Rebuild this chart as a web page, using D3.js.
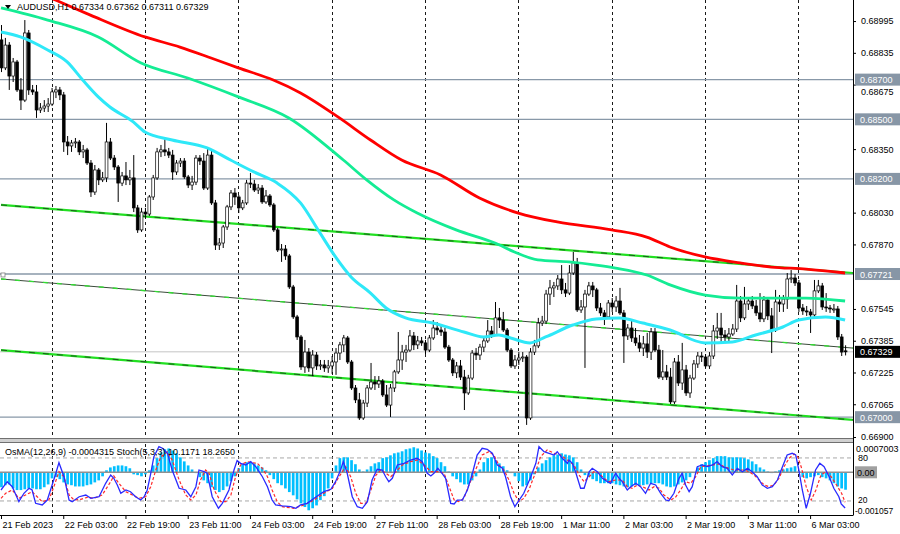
<!DOCTYPE html>
<html>
<head>
<meta charset="utf-8">
<script src="https://cdn.jsdelivr.net/npm/d3@7"></script>
<style>
html, body { margin: 0; padding: 0; background: #fff; }
svg { display: block; font-family: "Liberation Sans", Arial, sans-serif; }
</style>
</head>
<body>
<svg id="chart"></svg>
<script>
// ==================== Data ====================

var barOpen = [
0.68900,0.68759,0.68874,0.68718,0.68789,0.68648,0.68597,0.68935,0.68648,0.68638,
0.68547,0.68557,0.68567,0.68577,0.68638,0.68648,0.68623,0.68386,0.68366,0.68381,
0.68386,0.68336,0.68346,0.68280,0.68134,0.68245,0.68195,0.68205,0.68386,0.68305,
0.68260,0.68179,0.68215,0.68195,0.68205,0.68054,0.67943,0.68033,0.68023,0.68109,
0.68205,0.68336,0.68346,0.68336,0.68320,0.68235,0.68280,0.68290,0.68210,0.68169,
0.68184,0.68305,0.68290,0.68154,0.68320,0.68079,0.67867,0.67877,0.67958,0.68059,
0.68129,0.68109,0.68054,0.68079,0.68179,0.68174,0.68144,0.68154,0.68084,0.68114,
0.68069,0.67943,0.67842,0.67847,0.67812,0.67656,0.67505,0.67404,0.67253,0.67328,
0.67248,0.67313,0.67258,0.67263,0.67248,0.67258,0.67278,0.67323,0.67364,0.67399,
0.67278,0.67147,0.67087,0.66996,0.67071,0.67147,0.67177,0.67167,0.67182,0.67112,
0.67061,0.67147,0.67228,0.67288,0.67328,0.67338,0.67409,0.67364,0.67384,0.67374,
0.67338,0.67399,0.67449,0.67439,0.67429,0.67353,0.67288,0.67223,0.67258,0.67202,
0.67122,0.67197,0.67323,0.67313,0.67353,0.67384,0.67434,0.67414,0.67500,0.67489,
0.67439,0.67338,0.67258,0.67288,0.67298,0.67303,0.66996,0.67328,0.67359,0.67474,
0.67484,0.67620,0.67651,0.67661,0.67696,0.67641,0.67625,0.67726,0.67777,0.67540,
0.67555,0.67620,0.67661,0.67641,0.67550,0.67525,0.67505,0.67575,0.67555,0.67585,
0.67525,0.67409,0.67449,0.67399,0.67374,0.67348,0.67369,0.67328,0.67429,0.67338,
0.67202,0.67228,0.67202,0.67077,0.67278,0.67172,0.67238,0.67122,0.67197,0.67268,
0.67308,0.67303,0.67258,0.67308,0.67434,0.67449,0.67414,0.67404,0.67419,0.67444,
0.67585,0.67500,0.67570,0.67585,0.67560,0.67525,0.67495,0.67590,0.67510,0.67439,
0.67580,0.67570,0.67595,0.67696,0.67701,0.67676,0.67550,0.67535,0.67530,0.67515,
0.67636,0.67661,0.67555,0.67550,0.67545,0.67545,0.67404,0.67334];

var barHigh = [
0.68975,0.68910,0.68889,0.68809,0.68799,0.68708,0.69000,0.68950,0.68673,0.68673,
0.68582,0.68597,0.68607,0.68658,0.68668,0.68663,0.68638,0.68416,0.68396,0.68406,
0.68396,0.68371,0.68356,0.68295,0.68270,0.68255,0.68235,0.68482,0.68406,0.68320,
0.68270,0.68235,0.68285,0.68245,0.68320,0.68069,0.68054,0.68054,0.68119,0.68220,
0.68356,0.68371,0.68406,0.68356,0.68346,0.68295,0.68305,0.68305,0.68220,0.68215,
0.68320,0.68320,0.68330,0.68356,0.68346,0.68094,0.67902,0.67968,0.68069,0.68144,
0.68154,0.68119,0.68094,0.68195,0.68230,0.68195,0.68174,0.68169,0.68144,0.68124,
0.68079,0.67953,0.67872,0.67867,0.67822,0.67666,0.67515,0.67414,0.67389,0.67348,
0.67338,0.67328,0.67288,0.67288,0.67288,0.67308,0.67348,0.67379,0.67414,0.67409,
0.67288,0.67162,0.67122,0.67087,0.67162,0.67273,0.67207,0.67207,0.67192,0.67162,
0.67167,0.67238,0.67429,0.67364,0.67364,0.67439,0.67429,0.67409,0.67404,0.67389,
0.67414,0.67489,0.67479,0.67459,0.67449,0.67364,0.67298,0.67278,0.67288,0.67238,
0.67213,0.67338,0.67348,0.67369,0.67404,0.67489,0.67459,0.67580,0.67550,0.67530,
0.67449,0.67348,0.67313,0.67328,0.67328,0.67313,0.67348,0.67389,0.67500,0.67510,
0.67641,0.67691,0.67681,0.67716,0.67766,0.67676,0.67766,0.67832,0.67802,0.67590,
0.67641,0.67681,0.67681,0.67651,0.67575,0.67540,0.67590,0.67600,0.67610,0.67651,
0.67540,0.67469,0.67489,0.67449,0.67414,0.67409,0.67424,0.67449,0.67449,0.67364,
0.67338,0.67263,0.67248,0.67298,0.67313,0.67374,0.67263,0.67213,0.67288,0.67328,
0.67328,0.67318,0.67328,0.67464,0.67525,0.67525,0.67439,0.67449,0.67469,0.67666,
0.67610,0.67656,0.67605,0.67610,0.67590,0.67625,0.67610,0.67600,0.67550,0.67641,
0.67615,0.67615,0.67726,0.67741,0.67721,0.67691,0.67570,0.67560,0.67545,0.67691,
0.67691,0.67676,0.67625,0.67565,0.67570,0.67560,0.67419,0.67362];

var barLow = [
0.68738,0.68748,0.68648,0.68688,0.68638,0.68547,0.68587,0.68623,0.68623,0.68507,
0.68532,0.68537,0.68537,0.68567,0.68607,0.68597,0.68336,0.68320,0.68336,0.68356,
0.68320,0.68305,0.68270,0.68109,0.68119,0.68169,0.68184,0.68184,0.68295,0.68245,
0.68084,0.68164,0.68169,0.68169,0.68033,0.67928,0.67933,0.68003,0.68013,0.68094,
0.68195,0.68310,0.68315,0.68305,0.68195,0.68220,0.68260,0.68200,0.68154,0.68144,
0.68169,0.68270,0.68144,0.68144,0.68069,0.67842,0.67842,0.67852,0.67943,0.68043,
0.68069,0.68028,0.68043,0.68069,0.68154,0.68134,0.68124,0.68074,0.68074,0.68059,
0.67933,0.67832,0.67782,0.67792,0.67646,0.67495,0.67389,0.67238,0.67223,0.67228,
0.67207,0.67238,0.67238,0.67228,0.67223,0.67218,0.67213,0.67288,0.67328,0.67268,
0.67137,0.67071,0.66986,0.66986,0.67051,0.67137,0.67137,0.67147,0.67102,0.67051,
0.67001,0.67127,0.67218,0.67238,0.67278,0.67328,0.67338,0.67343,0.67359,0.67318,
0.67328,0.67389,0.67414,0.67409,0.67343,0.67278,0.67207,0.67197,0.67187,0.67036,
0.67112,0.67187,0.67288,0.67288,0.67328,0.67374,0.67399,0.67409,0.67449,0.67429,
0.67328,0.67248,0.67243,0.67263,0.67278,0.66961,0.66986,0.67313,0.67348,0.67459,
0.67469,0.67565,0.67605,0.67641,0.67620,0.67605,0.67615,0.67716,0.67530,0.67525,
0.67248,0.67610,0.67605,0.67535,0.67510,0.67464,0.67495,0.67530,0.67530,0.67515,
0.67273,0.67389,0.67379,0.67359,0.67328,0.67308,0.67298,0.67288,0.67328,0.67192,
0.67187,0.67187,0.67066,0.67066,0.67157,0.67137,0.67107,0.67097,0.67187,0.67248,
0.67278,0.67248,0.67243,0.67293,0.67394,0.67379,0.67379,0.67379,0.67409,0.67429,
0.67479,0.67489,0.67540,0.67545,0.67510,0.67479,0.67479,0.67489,0.67323,0.67429,
0.67530,0.67530,0.67545,0.67676,0.67661,0.67530,0.67515,0.67510,0.67424,0.67500,
0.67625,0.67540,0.67530,0.67525,0.67525,0.67389,0.67308,0.67311];

var barClose = [
0.68759,0.68874,0.68718,0.68789,0.68648,0.68597,0.68935,0.68648,0.68638,0.68547,
0.68557,0.68567,0.68577,0.68638,0.68648,0.68623,0.68386,0.68366,0.68381,0.68386,
0.68336,0.68346,0.68280,0.68134,0.68245,0.68195,0.68205,0.68386,0.68305,0.68260,
0.68179,0.68215,0.68195,0.68205,0.68054,0.67943,0.68033,0.68023,0.68109,0.68205,
0.68336,0.68346,0.68336,0.68320,0.68235,0.68280,0.68290,0.68210,0.68169,0.68184,
0.68305,0.68290,0.68154,0.68320,0.68079,0.67867,0.67877,0.67958,0.68059,0.68129,
0.68109,0.68054,0.68079,0.68179,0.68174,0.68144,0.68154,0.68084,0.68114,0.68069,
0.67943,0.67842,0.67847,0.67812,0.67656,0.67505,0.67404,0.67253,0.67328,0.67248,
0.67313,0.67258,0.67263,0.67248,0.67258,0.67278,0.67323,0.67364,0.67399,0.67278,
0.67147,0.67087,0.66996,0.67071,0.67147,0.67177,0.67167,0.67182,0.67112,0.67061,
0.67147,0.67228,0.67288,0.67328,0.67338,0.67409,0.67364,0.67384,0.67374,0.67338,
0.67399,0.67449,0.67439,0.67429,0.67353,0.67288,0.67223,0.67258,0.67202,0.67122,
0.67197,0.67323,0.67313,0.67353,0.67384,0.67434,0.67414,0.67500,0.67489,0.67439,
0.67338,0.67258,0.67288,0.67298,0.67303,0.66996,0.67328,0.67359,0.67474,0.67484,
0.67620,0.67651,0.67661,0.67696,0.67641,0.67625,0.67726,0.67777,0.67540,0.67555,
0.67620,0.67661,0.67641,0.67550,0.67525,0.67505,0.67575,0.67555,0.67585,0.67525,
0.67409,0.67449,0.67399,0.67374,0.67348,0.67369,0.67328,0.67429,0.67338,0.67202,
0.67228,0.67202,0.67077,0.67278,0.67172,0.67238,0.67122,0.67197,0.67268,0.67308,
0.67303,0.67258,0.67308,0.67434,0.67449,0.67414,0.67404,0.67419,0.67444,0.67585,
0.67500,0.67570,0.67585,0.67560,0.67525,0.67495,0.67590,0.67510,0.67439,0.67580,
0.67570,0.67595,0.67696,0.67701,0.67676,0.67550,0.67535,0.67530,0.67515,0.67636,
0.67661,0.67555,0.67550,0.67545,0.67545,0.67404,0.67328,0.67329];

// moving averages, as [bar index, price] read at intervals
var maRed = [[0,0.69227],[14,0.69101],[23,0.69025],[37,0.68915],[46,0.68864],[54,0.68809],[61,0.68759],
  [70,0.68698],[77,0.68633],[87,0.68507],[95,0.68396],[103,0.68295],[113,0.68220],[123,0.68104],
  [133,0.68028],[143,0.67983],[157,0.67943],[166,0.67907],[172,0.67857],[181,0.67807],[190,0.67777],
  [198,0.67756],[207,0.67746],[217,0.67726]];
var maGreen = [[0,0.69061],[12,0.69000],[25,0.68915],[36,0.68784],[48,0.68708],[61,0.68613],[74,0.68507],
  [88,0.68295],[94,0.68195],[101,0.68094],[107,0.68028],[117,0.67943],[127,0.67877],[132,0.67832],
  [138,0.67792],[146,0.67782],[153,0.67766],[158,0.67751],[166,0.67716],[172,0.67666],[181,0.67615],
  [190,0.67600],[198,0.67600],[207,0.67600],[217,0.67585]];
var maCyan = [[0,0.68940],[5,0.68915],[12,0.68849],[17,0.68789],[21,0.68698],[25,0.68613],[28,0.68562],
  [34,0.68487],[37,0.68436],[44,0.68396],[53,0.68356],[59,0.68295],[65,0.68235],[71,0.68179],[77,0.68079],
  [82,0.67928],[86,0.67807],[90,0.67706],[95,0.67625],[99,0.67550],[104,0.67500],[111,0.67474],
  [119,0.67429],[124,0.67404],[128,0.67414],[131,0.67399],[136,0.67374],[140,0.67404],[147,0.67464],
  [153,0.67495],[159,0.67500],[165,0.67474],[172,0.67439],[181,0.67374],[188,0.67379],[194,0.67414],
  [201,0.67454],[205,0.67489],[212,0.67505],[217,0.67489]];

// channel lines, [bar index, price] at both ends
var channelTop = [[0,0.68069],[219,0.67726]];
var channelMid = [[0,0.67696],[219,0.67348]];
var channelBot = [[0,0.67338],[219,0.66986]];

var levelPrices = [0.68700, 0.68500, 0.68200, 0.67721, 0.67000];
var bidPrice = 0.67329;
// scale labels left visible beside the level boxes
var priceTicks = [0.68995,0.68835,0.68675,0.68350,0.68030,0.67870,0.67545,0.67385,0.67225,0.67065,0.66900];

var timeLabels = ["21 Feb 2023","22 Feb 03:00","22 Feb 19:00","23 Feb 11:00","24 Feb 03:00","24 Feb 19:00",
  "27 Feb 11:00","28 Feb 03:00","28 Feb 19:00","1 Mar 11:00","2 Mar 03:00","2 Mar 19:00","3 Mar 11:00","6 Mar 03:00"];
var timeLabelBars = [0,16,32,48,64,80,96,112,128,144,160,176,192,208];
var dayStartBars = [13,37,61,85,109,133,157,181,205];

var osmaValues = [
-0.00037,-0.00032,-0.0003,-0.0004,-0.00044,-0.00044,-0.00042,-0.0004,-0.0004,-0.00042,
-0.00042,-0.00037,-0.0003,-0.00015,-0.00012,-0.00017,-0.00025,-0.0003,-0.00032,-0.00035,
-0.00035,-0.00035,-0.00032,-0.0003,-0.00025,-0.0002,-0.0001,0.00005,0.00012,0.00015,
0.00017,0.00017,0.00015,0.0001,-0.00005,-0.00007,-0.0001,-0.00005,0.00005,0.00017,
0.00035,0.00049,0.00057,0.00059,0.00054,0.00047,0.00037,0.00027,0.00017,0.00007,
-0.00002,-0.00012,-0.0002,-0.00027,-0.00037,-0.00044,-0.00049,-0.00044,-0.00035,-0.00022,
-0.0001,0.0001,0.0002,0.00025,0.00025,0.00022,0.00017,0.00012,0.00005,-0.00007,
-0.00017,-0.00027,-0.00032,-0.0004,-0.00049,-0.00057,-0.00067,-0.00077,-0.00086,-0.00094,
-0.00089,-0.00082,-0.00069,-0.00059,-0.0004,-0.00015,0.00017,0.00035,0.00037,0.00037,
0.0003,0.0002,0.00007,0.00002,0.00007,0.00015,0.00022,0.00025,0.00035,0.00037,
0.00042,0.00047,0.00049,0.00052,0.00057,0.00059,0.00062,0.00059,0.00054,0.00049,
0.00047,0.0004,0.00035,0.00025,0.00015,0.00002,-0.0001,-0.00017,-0.00025,-0.0003,
-0.0003,-0.0002,-0.0001,0.00007,0.00025,0.00035,0.00037,0.0003,0.00022,0.00015,
0.00005,-0.00002,-0.0001,-0.00022,-0.00035,-0.00032,-0.0002,-0.00005,0.00012,0.00022,
0.0003,0.00037,0.00042,0.00044,0.00047,0.00044,0.00042,0.00037,0.00025,0.00007,
-0.00007,-0.00012,-0.00017,-0.00022,-0.00027,-0.00027,-0.00027,-0.00027,-0.0003,-0.00032,
-0.00035,-0.00037,-0.00035,-0.00032,-0.00032,-0.00032,-0.0003,-0.00027,-0.00027,-0.00027,
-0.0003,-0.00035,-0.00037,-0.00035,-0.0003,-0.00025,-0.0002,-0.00012,-0.00002,0.00012,
0.0002,0.00025,0.0003,0.00035,0.0004,0.0004,0.0004,0.00037,0.00037,0.00037,
0.00037,0.00035,0.00032,0.00027,0.0002,0.00012,0.00007,0.00002,-0.00002,0.00002,
0.00005,0.00007,0.0001,0.00012,0.00015,0.00002,-0.00012,-0.00015,-0.00012,-0.0001,
-0.00007,-0.00012,-0.00015,-0.0002,-0.00027,-0.00035,-0.0004,-0.0004315];

// stochastic lines, [bar index, value] at the vertices read
var stochMain = [[0,35.3],[1.6,46.9],[2.9,39.9],[4.6,19],[5.9,30.7],[7.2,37.7],[8,35.3],[8.9,16.7],[10.6,14.4],
  [11.9,21.3],[13,39.9],[14.1,58.6],[14.9,73.4],[16.2,53.8],[17.5,21.3],[18.3,19],[20.1,25.9],[21.8,28.3],
  [23.1,23.7],[25.2,25.9],[26.9,44.6],[28.2,56.2],[29,51.6],[29.9,42.3],[30.8,30.7],[32.1,35.3],[33.3,32.9],
  [34.6,25.9],[35.9,21.3],[36.8,25.9],[37.6,35.3],[38.5,58.6],[39.3,81.7],[40.6,95.7],[41.5,93.5],[42.8,86.5],
  [44,63.2],[45.8,37.7],[47.5,35.3],[48.8,25.9],[50.1,39.9],[50.9,63.2],[52.2,60.8],[53,58.6],[54.3,25.9],
  [55.9,9.8],[56.9,16.7],[58.6,35.3],[59.9,63.2],[60.7,76.2],[61.6,72.5],[62.9,70.2],[64.2,74.8],[65.5,67.8],
  [67.2,53.8],[68.5,39.9],[69.7,21.3],[70.6,14.4],[72.3,13],[74.5,12],[75.8,9.8],[77,14.4],[78.7,16.7],
  [80.5,23.7],[81.7,28.3],[83,32.9],[84.8,36.3],[86,46.9],[87.3,63.2],[88,74.8],[89,58.6],[90.3,25.9],
  [91.6,12],[92.9,9.8],[94.2,19],[95.4,49.2],[96.7,64.2],[98,63.2],[98.9,53.8],[99.7,46.9],[100.6,51.6],
  [101.9,70.2],[103.6,72.5],[105.3,77.1],[107,79.5],[108.3,74.8],[109.6,58.6],[110.5,54.8],[111.3,58.6],
  [112.3,65.6],[113.4,58.6],[114.3,51.6],[115.6,16.7],[116.5,15.8],[117.3,21.3],[118.6,21.3],[119.9,35.3],
  [121.2,58.6],[122.4,84.1],[123.7,93.5],[125,92.1],[126.3,86.5],[127.6,70.2],[128.9,65.6],[129.7,53.8],
  [131,25.9],[132.1,12],[133.2,21.3],[134.4,30.7],[136.2,53.8],[137.5,72.5],[138.3,95.7],[139.6,88.7],
  [140.9,86.5],[142.2,84.1],[143,88.7],[144.3,79.5],[145.6,72.5],[146,77.1],[146.9,72.5],[147.7,60.8],
  [149,37.7],[149.9,37.7],[151.2,60.8],[152,65.6],[153.3,60.8],[154.6,51.6],[155.9,46.9],[156.7,44.6],
  [158,58.6],[158.9,51.6],[159.7,46.9],[161,35.3],[161.9,39.9],[163.2,44.6],[164.4,39.9],[165.7,30.7],
  [167,44.6],[168.3,42.3],[169.6,30.7],[170.9,21.3],[171.7,20.4],[173,30.7],[174.3,51.6],[175.1,58.6],
  [176,42.3],[176.9,32.9],[177.7,39.9],[179,67.8],[180.3,70.2],[181.6,67.8],[182.9,70.2],[184.1,74.8],
  [185.4,67.8],[186.7,65.6],[188,56.2],[189.3,65.6],[190.6,60.8],[191.9,65.6],[193.1,60.8],[194.4,53.8],
  [195.7,42.3],[197,37.7],[198.3,39.9],[199.6,49.2],[200.9,67.8],[202.1,84.1],[203.4,86.5],[204.3,84.1],
  [205.1,63.2],[206,35.3],[207,9.8],[208.1,30.7],[209.4,63.2],[210.5,72.5],[211.6,67.8],[212.9,53.8],
  [214.1,37.7],[215.4,25.9],[216,16],[217,10.1]];
var stochSignal = [[0,23.7],[1.2,30.7],[2.9,35.3],[4.6,23.7],[6.3,28.3],[8,32.9],[9.3,25.9],[10.6,19],[12.3,21.3],
  [13.6,39.9],[14.9,60.8],[16.2,53.8],[17.5,28.3],[18.8,21.3],[20.5,22.3],[22.2,25.1],[23.9,23.7],[26,28.3],
  [28.2,46.9],[29,54.8],[30.3,44.6],[32.1,32.9],[33.8,28.3],[35.5,23.7],[37.2,25.9],[38.5,39.9],[39.8,63.2],
  [41.1,81.7],[42.8,88.7],[44,77.1],[45.8,49.2],[47.5,28.3],[48.8,21.3],[50.1,28.3],[51.3,49.2],[52.6,63.2],
  [53.5,58.6],[54.8,35.3],[56.5,19],[57.8,19],[59.1,28.3],[60.3,53.8],[61.6,70.2],[63.3,74.8],[64.6,73.4],
  [65.9,72.5],[67.2,65.6],[68.5,53.8],[69.7,35.3],[71,19],[72.3,12],[75.3,9.8],[77.9,14.4],[80.5,21.3],
  [83,30.7],[85.2,37.7],[86.9,53.8],[88.6,67.8],[89.9,53.8],[91.2,30.7],[92.5,16.7],[93.8,16.7],[95.1,35.3],
  [96.4,56.2],[97.7,63.2],[99,58.6],[100.2,53.8],[101.5,60.8],[103.2,70.2],[105.3,74.8],[107,77.1],
  [108.8,70.2],[110.5,60.8],[112.2,60.8],[113.9,58.6],[115.2,39.9],[116.5,21.3],[117.7,19],[119,23.7],
  [120.3,42.3],[122,63.2],[123.7,84.1],[125.4,88.7],[126.7,84.1],[128,70.2],[129.3,63.2],[130.6,49.2],
  [131.9,30.7],[133.2,19],[134.4,23.7],[135.7,35.3],[137,53.8],[138.7,81.7],[140.4,91.1],[142.2,86.5],
  [143.9,84.1],[145.6,77.1],[147.3,70.2],[148.6,56.2],[149.9,46.9],[151.2,53.8],[152.4,60.8],[153.7,58.6],
  [155,51.6],[156.3,46.9],[158,49.2],[159.7,49.2],[161,39.9],[162.3,37.7],[163.6,42.3],[164.9,39.9],
  [166.6,35.3],[167.9,39.9],[169.2,37.7],[170.4,28.3],[172.2,21.3],[173.5,25.9],[174.7,35.3],[176,46.9],
  [177.3,44.6],[178.6,53.8],[179.9,67.8],[181.2,68.8],[182.9,70.2],[184.6,71.6],[185.9,67.8],[187.1,65.6],
  [188.4,63.2],[189.7,63.2],[191,63.2],[192.3,60.8],[193.6,56.2],[194.9,49.2],[196.2,42.3],[197.4,39.9],
  [198.7,42.3],[200,51.6],[201.3,67.8],[202.6,79.5],[203.9,85.5],[204.8,81.7],[205.7,67.8],[207,39.9],
  [208.3,21.3],[209.5,35.3],[210.8,56.2],[212.1,60.8],[213.4,53.8],[214.8,42.3],[216.1,30.7],[217,18.3]];

// ==================== Layout ====================

var W = 900, H = 534;
var axisX = 853;
var mainBottom = 438;
var indTop = 443, indBottom = 515;
var svg, x, y, yOsma, yStoch;

window.addEventListener("load", init);

function init() {
    svg = d3.select("#chart").attr("width", W).attr("height", H);
    svg.append("rect").attr("width", W).attr("height", H).attr("fill", "#ffffff");

    // bar index -> pixel, price -> pixel
    x = d3.scaleLinear().domain([0, 217]).range([1, 845.1]);
    y = d3.scaleLinear().domain([0.69101, 0.66885]).range([0, 440]);
    yOsma = d3.scaleLinear().domain([-0.001057, 0.0007003]).range([515, 444]);
    yStoch = d3.scaleLinear().domain([0, 100]).range([515.3, 443.6]);

    var defs = svg.append("defs");
    defs.append("clipPath").attr("id", "mainClip")
        .append("rect").attr("x", 0).attr("y", 0).attr("width", axisX).attr("height", mainBottom);
    defs.append("clipPath").attr("id", "indClip")
        .append("rect").attr("x", 0).attr("y", indTop).attr("width", axisX).attr("height", indBottom - indTop);

    drawGrid();
    drawMainPanel();
    drawIndicatorPanel();
    drawAxes();
}

// dashed day separators through both panels
function drawGrid() {
    svg.append("g").selectAll("line").data(dayStartBars).enter().append("line")
        .attr("x1", function(d) { return Math.round(x(d)) + 0.5; })
        .attr("x2", function(d) { return Math.round(x(d)) + 0.5; })
        .attr("y1", 0).attr("y2", indBottom)
        .attr("stroke", "#1a1a1a").attr("stroke-width", 1)
        .attr("stroke-dasharray", "3,3");
}

function drawMainPanel() {
    var g = svg.append("g").attr("clip-path", "url(#mainClip)");

    // horizontal analyst levels
    g.selectAll(".level").data(levelPrices).enter().append("line")
        .attr("class", "level")
        .attr("x1", 0).attr("x2", axisX)
        .attr("y1", function(d) { return y(d); }).attr("y2", function(d) { return y(d); })
        .attr("stroke", "#8898a8").attr("stroke-width", 1.3);

    // bid line
    g.append("line").attr("x1", 0).attr("x2", axisX)
        .attr("y1", y(bidPrice)).attr("y2", y(bidPrice))
        .attr("stroke", "#c4c4c4").attr("stroke-width", 1);

    // channel
    var straight = d3.line().x(function(d) { return x(d[0]); }).y(function(d) { return y(d[1]); });
    [channelTop, channelBot].forEach(function(c) {
        g.append("path").attr("d", straight(c)).attr("fill", "none")
            .attr("stroke", "#22e022").attr("stroke-width", 2.2);
        g.append("path").attr("d", straight(c)).attr("fill", "none")
            .attr("stroke", "#1c5a1c").attr("stroke-width", 1).attr("stroke-dasharray", "6,8");
    });
    g.append("path").attr("d", straight(channelMid)).attr("fill", "none")
        .attr("stroke", "#3a4a3a").attr("stroke-width", 1);
    g.append("path").attr("d", straight(channelMid)).attr("fill", "none")
        .attr("stroke", "#33dd33").attr("stroke-width", 1.4).attr("stroke-dasharray", "5,9");
    g.append("rect").attr("x", 1).attr("y", y(channelMid[0][1]) - 6).attr("width", 4).attr("height", 4)
        .attr("fill", "#fff").attr("stroke", "#808080").attr("stroke-width", 0.8);

    // candles
    var idx = d3.range(barClose.length);
    var candles = g.append("g").selectAll("g").data(idx).enter().append("g");
    candles.append("line")
        .attr("x1", function(i) { return x(i) + 0.5; }).attr("x2", function(i) { return x(i) + 0.5; })
        .attr("y1", function(i) { return y(barHigh[i]); })
        .attr("y2", function(i) { return y(barLow[i]); })
        .attr("stroke", "#000").attr("stroke-width", 1);
    candles.append("rect")
        .attr("x", function(i) { return x(i) - 0.9; })
        .attr("width", 2.8)
        .attr("y", function(i) { return y(Math.max(barOpen[i], barClose[i])); })
        .attr("height", function(i) {
            return Math.max(1, Math.abs(y(barOpen[i]) - y(barClose[i])));
        })
        .attr("fill", function(i) { return barClose[i] >= barOpen[i] ? "#ffffff" : "#000000"; })
        .attr("stroke", "#000").attr("stroke-width", 0.7);

    // moving averages
    var smooth = d3.line().x(function(d) { return x(d[0]); }).y(function(d) { return y(d[1]); })
        .curve(d3.curveMonotoneX);
    g.append("path").attr("d", smooth(maRed)).attr("fill", "none")
        .attr("stroke", "#ff0000").attr("stroke-width", 2.8);
    g.append("path").attr("d", smooth(maGreen)).attr("fill", "none")
        .attr("stroke", "#14ec94").attr("stroke-width", 2.8);
    g.append("path").attr("d", smooth(maCyan)).attr("fill", "none")
        .attr("stroke", "#2ee8f8").attr("stroke-width", 3);

    // header text
    svg.append("path").attr("d", "M5,5 L11,5 L8,9 Z").attr("fill", "#000");
    svg.append("text").attr("x", 17).attr("y", 10).attr("font-size", "9px").attr("fill", "#000")
        .text("AUDUSD,H1  0.67334 0.67362 0.67311 0.67329");

    // panel separator
    svg.append("rect").attr("x", 0).attr("y", mainBottom).attr("width", axisX).attr("height", indTop - mainBottom)
        .attr("fill", "#d0d0d0");
    svg.append("line").attr("x1", 0).attr("x2", axisX).attr("y1", mainBottom + 0.5).attr("y2", mainBottom + 0.5)
        .attr("stroke", "#707070");
    svg.append("line").attr("x1", 0).attr("x2", axisX).attr("y1", indTop - 0.5).attr("y2", indTop - 0.5)
        .attr("stroke", "#707070");
}

function drawIndicatorPanel() {
    var g = svg.append("g").attr("clip-path", "url(#indClip)");

    // stochastic levels and zero line
    [80, 20].forEach(function(v) {
        g.append("line").attr("x1", 0).attr("x2", axisX)
            .attr("y1", yStoch(v)).attr("y2", yStoch(v))
            .attr("stroke", "#a8a8a8").attr("stroke-dasharray", "4,3");
    });

    // OsMA histogram
    g.selectAll(".osma").data(osmaValues).enter().append("rect")
        .attr("class", "osma")
        .attr("x", function(d, i) { return x(i) - 0.9; })
        .attr("width", 2.7)
        .attr("y", function(d) { return yOsma(Math.max(d, 0)); })
        .attr("height", function(d) { return Math.abs(yOsma(d) - yOsma(0)); })
        .attr("fill", "#00bfff");

    g.append("line").attr("x1", 0).attr("x2", axisX)
        .attr("y1", yOsma(0)).attr("y2", yOsma(0))
        .attr("stroke", "#909090").attr("stroke-width", 1.6);

    var stLine = d3.line().x(function(d) { return x(d[0]); }).y(function(d) { return yStoch(d[1]); });
    g.append("path").attr("d", stLine(stochSignal)).attr("fill", "none")
        .attr("stroke", "#ff2a2a").attr("stroke-width", 1.2).attr("stroke-dasharray", "3,2");
    g.append("path").attr("d", stLine(stochMain)).attr("fill", "none")
        .attr("stroke", "#2a2aff").attr("stroke-width", 1.3);

    svg.append("text").attr("x", 5).attr("y", 455).attr("font-size", "9px").attr("fill", "#000")
        .text("OsMA(12,26,9) -0.0004315  Stoch(5,3,3) 10.1171 18.2650");
}

function drawAxes() {
    // right price axis
    var right = svg.append("g").attr("transform", "translate(" + axisX + ",0)")
        .call(d3.axisRight(y).tickValues(priceTicks).tickSize(3).tickPadding(5)
            .tickFormat(d3.format(".5f")));
    right.select(".domain").remove();
    right.selectAll("text").attr("font-size", "9px").attr("font-family", "Liberation Sans, Arial, sans-serif")
        .attr("fill", "#000");
    right.selectAll("line").attr("stroke", "#000");
    // the label under the 0.68700 box peeks out just below it
    right.selectAll(".tick").filter(function(d) { return d === 0.68675; })
        .select("text").attr("dy", "1.05em");

    // level boxes on the axis
    var boxes = svg.append("g").selectAll("g").data(levelPrices).enter().append("g");
    boxes.append("rect").attr("x", axisX + 2).attr("width", 45)
        .attr("y", function(d) { return y(d) - 6; }).attr("height", 12)
        .attr("fill", "#8796a6");
    boxes.append("text").attr("x", axisX + 7).attr("y", function(d) { return y(d) + 3.5; })
        .attr("font-size", "9px").attr("fill", "#fff")
        .text(function(d) { return d3.format(".5f")(d); });

    svg.append("rect").attr("x", axisX + 2).attr("width", 45).attr("y", y(bidPrice) - 6).attr("height", 12)
        .attr("fill", "#000");
    svg.append("text").attr("x", axisX + 7).attr("y", y(bidPrice) + 3.5)
        .attr("font-size", "9px").attr("fill", "#fff").text(d3.format(".5f")(bidPrice));

    // indicator scale
    var ind = svg.append("g").attr("font-size", "9px").attr("fill", "#000");
    ind.append("text").attr("x", axisX + 3).attr("y", yOsma(0.0007003) + 8).text("0.0007003");
    ind.append("text").attr("x", axisX + 5).attr("y", yStoch(80) + 3.5).text("80");
    ind.append("rect").attr("x", axisX + 2).attr("width", 22).attr("y", yOsma(0) - 6).attr("height", 12)
        .attr("fill", "#a0a0a0");
    ind.append("text").attr("x", axisX + 4).attr("y", yOsma(0) + 3.5).text("0.00");
    ind.append("text").attr("x", axisX + 5).attr("y", yStoch(20) + 2).attr("font-size", "8.5px").text("20");
    ind.append("text").attr("x", axisX + 2).attr("y", yOsma(-0.001057) - 1).attr("font-size", "8.5px").text("-0.001057");

    // bottom time axis
    var bottom = svg.append("g").attr("transform", "translate(0," + indBottom + ")")
        .call(d3.axisBottom(x).tickValues(timeLabelBars).tickSize(4).tickPadding(3)
            .tickFormat(function(d, k) { return timeLabels[k]; }));
    bottom.select(".domain").remove();
    bottom.selectAll("text").attr("text-anchor", "start").attr("dx", 1)
        .attr("font-size", "9px").attr("font-family", "Liberation Sans, Arial, sans-serif").attr("fill", "#000");
    bottom.selectAll("line").attr("stroke", "#000");

    // frame lines
    svg.append("line").attr("x1", axisX + 0.5).attr("x2", axisX + 0.5).attr("y1", 0).attr("y2", indBottom)
        .attr("stroke", "#000");
    svg.append("line").attr("x1", 0).attr("x2", axisX + 0.5).attr("y1", indBottom + 0.5).attr("y2", indBottom + 0.5)
        .attr("stroke", "#000");
}
</script>
</body>
</html>
